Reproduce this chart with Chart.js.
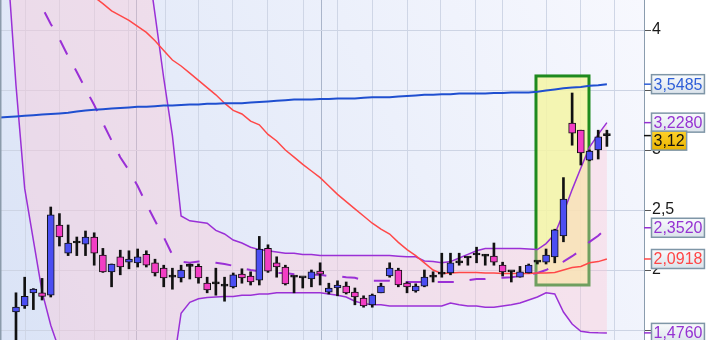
<!DOCTYPE html>
<html>
<head>
<meta charset="utf-8">
<script src="https://cdn.jsdelivr.net/npm/chart.js@4.4.1/dist/chart.umd.min.js"></script>
<style>
  html, body { margin: 0; padding: 0; background: #fff; }
  #wrap { width: 720px; height: 340px; position: relative; }
</style>
</head>
<body>
<div id="wrap"><canvas id="chart"></canvas></div>
<script>
// daily candles, index 1..69
const opens = [
  1.65, 1.70, 1.81, 1.81, 1.79, 2.375, 2.14, 2.225, 2.215, 2.275,
  2.125, 1.985, 2.11, 2.065, 2.06, 2.13, 2.06, 2.015, 1.94, 1.935,
  2.03, 2.03, 1.89, 1.885, 1.865, 1.86, 1.965, 1.95, 1.915, 2.18,
  2.06, 2.025, 1.94, 1.935, 1.925, 1.99, 1.815, 1.85, 1.865, 1.815,
  1.765, 1.71, 1.81, 1.95, 2.0, 1.89, 1.825, 1.865, 1.94, 1.965,
  1.975, 2.06, 2.1, 2.125, 2.115, 2.115, 2.04, 1.985, 1.94, 1.975,
  2.065, 2.065, 2.11, 2.285, 3.225, 3.165, 2.915, 3.0, 3.12
]
const closes = [
  1.69, 1.78, 1.84, 1.78, 2.46, 2.275, 2.225, 2.225, 2.275, 2.14,
  1.985, 2.05, 2.025, 2.09, 2.11, 2.04, 1.975, 1.935, 1.94, 2.0,
  2.03, 1.935, 1.835, 1.885, 1.865, 1.96, 1.935, 1.9, 2.175, 1.99,
  2.025, 1.885, 1.94, 1.935, 1.985, 1.965, 1.85, 1.875, 1.81, 1.775,
  1.7, 1.79, 1.865, 2.015, 1.875, 1.86, 1.865, 1.94, 1.94, 1.965,
  2.06, 2.06, 2.1, 2.125, 2.115, 2.065, 1.985, 1.985, 1.985, 2.04,
  2.065, 2.125, 2.335, 2.59, 3.14, 2.975, 2.99, 3.11, 3.12
]
const highs = [
  1.81, 1.94, 1.845, 1.93, 2.525, 2.47, 2.375, 2.275, 2.325, 2.31,
  2.18, 2.05, 2.165, 2.16, 2.175, 2.16, 2.09, 2.04, 2.015, 2.04,
  2.05, 2.05, 1.94, 2.015, 1.94, 1.975, 2.01, 1.985, 2.28, 2.21,
  2.11, 2.04, 1.95, 1.94, 2.0, 2.06, 1.89, 1.91, 1.9, 1.85,
  1.785, 1.8, 1.89, 2.06, 2.015, 1.9, 1.885, 2.0, 1.985, 2.14,
  2.14, 2.14, 2.11, 2.19, 2.13, 2.225, 2.065, 1.99, 2.03, 2.05,
  2.07, 2.175, 2.34, 2.77, 3.475, 3.165, 3.0, 3.165, 3.165
]
const lows = [
  1.38, 1.68, 1.67, 1.75, 1.775, 2.2, 2.12, 2.12, 2.12, 2.04,
  1.98, 1.86, 1.96, 2.01, 2.025, 2.025, 1.95, 1.86, 1.84, 1.9,
  1.925, 1.89, 1.81, 1.79, 1.74, 1.85, 1.89, 1.875, 1.875, 1.98,
  1.94, 1.875, 1.81, 1.85, 1.86, 1.875, 1.8, 1.785, 1.8, 1.71,
  1.69, 1.69, 1.81, 1.94, 1.86, 1.81, 1.815, 1.86, 1.9, 1.94,
  1.96, 2.04, 2.04, 2.06, 2.04, 2.04, 1.95, 1.9, 1.94, 1.975,
  2.05, 2.05, 2.06, 2.235, 3.04, 2.875, 2.91, 2.925, 3.03
]

// indicator lines, index -1..69
const upperBand = [
  5.0, 4.86, 5.64, 6.2, 6.4, 6.55, 6.55, 6.5, 6.35, 6.3, 6.2,
  6.1, 5.95, 5.7, 5.5, 5.25, 5.0, 4.65, 4.13, 3.6, 3.12,
  2.45, 2.41, 2.4, 2.39, 2.33, 2.3, 2.25, 2.225, 2.19, 2.17,
  2.16, 2.15, 2.14, 2.14, 2.13, 2.13, 2.12, 2.12, 2.12, 2.12,
  2.12, 2.12, 2.12, 2.12, 2.12, 2.115, 2.11, 2.11, 2.075, 2.07,
  2.06, 2.07, 2.1, 2.13, 2.16, 2.18, 2.18, 2.18, 2.18, 2.18,
  2.175, 2.17, 2.22, 2.3, 2.475, 2.67, 2.85, 3.025, 3.13, 3.228
]
const middleBand = [
  4.85, 4.72, 4.59, 4.45, 4.325, 4.19, 4.05, 3.925, 3.78, 3.65, 3.51,
  3.375, 3.225, 3.08, 2.94, 2.83, 2.7, 2.55, 2.41, 2.275, 2.125,
  2.07, 2.06, 2.07, 2.07, 2.06, 2.05, 2.035, 2.015, 2.0, 1.99,
  1.985, 1.975, 1.975, 1.965, 1.965, 1.96, 1.96, 1.95, 1.95, 1.94,
  1.935, 1.915, 1.91, 1.91, 1.91, 1.9, 1.9, 1.9, 1.9, 1.9,
  1.9, 1.9, 1.9, 1.915, 1.925, 1.925, 1.935, 1.935, 1.94, 1.95,
  1.96, 1.975, 2.0, 2.04, 2.07, 2.115, 2.165, 2.235, 2.285, 2.352
]
const lowerBand = [
  4.7, 4.58, 3.54, 2.68, 2.25, 1.82, 1.54, 1.33, 1.2, 1.0, 0.8,
  0.65, 0.5, 0.45, 0.4, 0.4, 0.4, 0.45, 0.7, 0.95, 1.15,
  1.64, 1.73, 1.76, 1.77, 1.775, 1.78, 1.78, 1.79, 1.79, 1.8,
  1.8, 1.81, 1.81, 1.81, 1.81, 1.81, 1.81, 1.8, 1.79, 1.775,
  1.74, 1.72, 1.71, 1.71, 1.7, 1.7, 1.7, 1.7, 1.7, 1.7,
  1.7, 1.725, 1.71, 1.7, 1.7, 1.69, 1.69, 1.7, 1.71, 1.725,
  1.75, 1.775, 1.81, 1.8, 1.65, 1.55, 1.49, 1.48, 1.477, 1.476
]
const redAverage = [
  4.82, 4.78, 4.74, 4.7, 4.66, 4.62, 4.57, 4.5, 4.44, 4.38, 4.325,
  4.275, 4.22, 4.16, 4.12, 4.08, 4.03, 3.98, 3.91, 3.83, 3.75,
  3.7, 3.64, 3.58, 3.52, 3.46, 3.39, 3.33, 3.3, 3.24, 3.21,
  3.13, 3.075, 3.0, 2.94, 2.88, 2.825, 2.77, 2.7, 2.63, 2.57,
  2.51, 2.45, 2.39, 2.34, 2.3, 2.23, 2.17, 2.12, 2.06, 2.0,
  1.97, 1.975, 1.98, 1.98, 1.98, 1.975, 1.975, 1.97, 1.97, 1.97,
  1.97, 1.975, 1.975, 1.98, 2.0, 2.02, 2.03, 2.06, 2.07, 2.0918
]
const blueAverage = [
  3.27, 3.275, 3.28, 3.285, 3.29, 3.295, 3.3, 3.305, 3.31, 3.32, 3.33,
  3.335, 3.34, 3.345, 3.35, 3.355, 3.36, 3.36, 3.365, 3.37, 3.37,
  3.375, 3.38, 3.38, 3.385, 3.385, 3.39, 3.39, 3.39, 3.395, 3.4,
  3.405, 3.41, 3.415, 3.42, 3.42, 3.42, 3.425, 3.425, 3.43, 3.43,
  3.43, 3.435, 3.44, 3.44, 3.44, 3.445, 3.45, 3.455, 3.46, 3.46,
  3.465, 3.465, 3.47, 3.47, 3.47, 3.47, 3.475, 3.475, 3.48, 3.48,
  3.48, 3.485, 3.495, 3.505, 3.515, 3.52, 3.525, 3.535, 3.54, 3.5485
]

// vertical week lines (in candle index units), the darker ones mark month starts
const weekLines = [2.15, 6.06, 9.98, 13.9, 14.92, 18.15, 22.06, 25.97, 30.0, 34.03,
  36.1, 38.05, 42.0, 46.0, 49.9, 53.9, 57.0, 62.1, 66.0, 69.9]
const monthLines = [14.92, 36.1]
const axisLabels = [4, 3, 2.5, 2]
const highlight = { from: 60.84, to: 66.94, top: 3.617, bottom: 1.875 }

const BLUE = '#4b4ef2'
const PINK = '#f23ec4'

const candleX = opens.map((_, i) => i + 1)
const lineX = upperBand.map((_, i) => i - 1)
const toPoints = arr => arr.map((v, i) => ({ x: lineX[i], y: v }))
const comma = (v, d) => v.toFixed(d).replace('.', ',')

const bodyColors = opens.map((o, i) =>
  closes[i] > o ? BLUE : closes[i] < o ? PINK : '#111'
)

function lineSet(data, color, width, extra) {
  return Object.assign({
    type: 'line',
    data: toPoints(data),
    borderColor: color,
    borderWidth: width,
    pointRadius: 0,
    tension: 0,
    fill: false
  }, extra)
}

const frame = {
  id: 'frame',
  beforeDraw(chart) {
    const { ctx, chartArea: a, width, height } = chart
    ctx.save()
    ctx.fillStyle = '#fff'
    ctx.fillRect(0, 0, width, height)
    const g = ctx.createLinearGradient(a.left, a.bottom, a.right, a.top)
    g.addColorStop(0, '#dae3f6')
    g.addColorStop(1, '#f7f8fe')
    ctx.fillStyle = g
    ctx.fillRect(a.left, a.top, a.right - a.left, a.bottom - a.top)
    ctx.restore()
  },
  // highlight box sits under everything else
  beforeDatasetsDraw(chart) {
    const { ctx, scales: { x, y } } = chart
    const l = x.getPixelForValue(highlight.from)
    const r = x.getPixelForValue(highlight.to)
    const t = y.getPixelForValue(highlight.top)
    const b = y.getPixelForValue(highlight.bottom)
    ctx.save()
    ctx.fillStyle = 'rgba(244, 244, 165, 0.85)'
    ctx.fillRect(l, t, r - l, b - t)
    ctx.strokeStyle = '#1e8a1e'
    ctx.lineWidth = 3
    ctx.strokeRect(l, t, r - l, b - t)
    ctx.restore()
  },
  afterDraw(chart) {
    const { ctx, chartArea: a, scales: { y } } = chart
    ctx.save()
    // left frame line
    ctx.strokeStyle = '#8b9bab'
    ctx.lineWidth = 1.5
    ctx.beginPath()
    ctx.moveTo(a.left + 0.75, a.top)
    ctx.lineTo(a.left + 0.75, a.bottom)
    ctx.stroke()

    // last-value boxes on the right axis
    const boxes = [
      { value: blueAverage.at(-1), text: comma(blueAverage.at(-1), 4), color: '#2f5fd8' },
      { value: upperBand.at(-1), text: comma(upperBand.at(-1), 4), color: '#9532d2' },
      { value: closes.at(-1), text: comma(closes.at(-1), 2), color: '#111', price: true },
      { value: middleBand.at(-1), text: comma(middleBand.at(-1), 4), color: '#9532d2' },
      { value: redAverage.at(-1), text: comma(redAverage.at(-1), 4), color: '#ff4646' },
      { value: lowerBand.at(-1), text: comma(lowerBand.at(-1), 4), color: '#9532d2' }
    ]
    ctx.font = '16px "Liberation Sans", Arial, sans-serif'
    ctx.textBaseline = 'middle'
    let prev = -100
    boxes.forEach(bx => {
      bx.py = y.getPixelForValue(bx.value)
      bx.cy = Math.max(bx.py, prev + 18)
      prev = bx.cy
    })
    boxes.forEach(bx => {
      ctx.strokeStyle = bx.color
      ctx.lineWidth = 1.5
      ctx.beginPath()
      ctx.moveTo(a.right, bx.py)
      ctx.lineTo(a.right + 7, bx.py)
      ctx.stroke()
      const w = ctx.measureText(bx.text).width + 4
      const h = 19
      const left = a.right + 7.5
      const top = bx.cy - h / 2
      const g = ctx.createLinearGradient(0, top, 0, top + h)
      if (bx.price) {
        g.addColorStop(0, '#ffd22a')
        g.addColorStop(1, '#eab400')
      } else {
        g.addColorStop(0, '#f8fafc')
        g.addColorStop(1, '#dbe3eb')
      }
      ctx.fillStyle = g
      ctx.fillRect(left, top, w, h)
      ctx.strokeStyle = '#7f96a7'
      ctx.lineWidth = 1.5
      ctx.strokeRect(left, top, w, h)
      ctx.fillStyle = bx.color
      ctx.fillText(bx.text, left + 2, bx.cy + 1)
    })
    ctx.restore()
  }
}

Chart.defaults.font.family = '"Liberation Sans", Arial, sans-serif'
Chart.defaults.font.size = 16

const chart = new Chart(document.getElementById('chart'), {
  type: 'bar',
  data: {
    datasets: [
      lineSet(upperBand, '#9a30d6', 1.5, { order: 8 }),
      lineSet(lowerBand, '#9a30d6', 1.5, { order: 9, fill: '-1', backgroundColor: 'rgba(255, 196, 210, 0.36)' }),
      lineSet(middleBand, '#9a30d6', 2, { order: 7, borderDash: [16, 16] }),
      lineSet(redAverage, '#ff4848', 1.5, { order: 6 }),
      lineSet(blueAverage, '#1f4fd0', 2, { order: 5 }),
      {
        type: 'bar',
        data: candleX.map((x, i) => ({ x, y: [lows[i], highs[i]] })),
        backgroundColor: '#111',
        borderWidth: 0,
        barThickness: 2,
        grouped: false,
        order: 2
      },
      {
        type: 'bar',
        data: candleX.map((x, i) => ({ x, y: [opens[i], closes[i]] })),
        backgroundColor: bodyColors,
        borderColor: '#111',
        borderWidth: 1,
        borderSkipped: false,
        barThickness: 7,
        minBarLength: 2,
        grouped: false,
        order: 1
      }
    ]
  },
  options: {
    responsive: true,
    maintainAspectRatio: false,
    animation: false,
    layout: { padding: 0 },
    plugins: { legend: { display: false }, tooltip: { enabled: false } },
    scales: {
      x: {
        type: 'linear',
        min: -0.84,
        max: 73.27,
        offset: false,
        grid: {
          offset: false,
          drawTicks: false,
          color: ctx => monthLines.includes(ctx.tick && ctx.tick.value) ? '#aab5ca' : '#cfd6e6'
        },
        border: { display: false },
        ticks: { display: false },
        afterBuildTicks: s => { s.ticks = weekLines.map(v => ({ value: v })) },
        afterFit: s => { s.height = 0 }
      },
      y: {
        type: 'linear',
        position: 'right',
        min: 1.4167,
        max: 4.25,
        grid: { color: '#cdd4e4', tickLength: 7, tickColor: '#555' },
        border: { color: '#8a9cae', width: 1 },
        ticks: {
          stepSize: 0.5,
          includeBounds: false,
          padding: 1,
          color: '#1a1a1a',
          callback: v => axisLabels.includes(v) ? String(v).replace('.', ',') : ''
        },
        afterFit: s => { s.width = 76; s.paddingTop = 0; s.paddingBottom = 0 }
      }
    }
  },
  plugins: [frame]
})
</script>
</body>
</html>
